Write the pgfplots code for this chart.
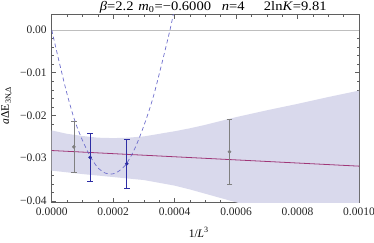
\documentclass[border=0pt]{standalone}
\usepackage{fontspec}
\setmainfont{Liberation Serif}
\usepackage{pgfplots}
\pgfplotsset{compat=1.18}
\definecolor{bandc}{RGB}{217,217,236}
\definecolor{linec}{RGB}{160,55,120}
\definecolor{ptblue}{RGB}{45,45,165}
\definecolor{ptgray}{RGB}{128,128,128}
\definecolor{dashc}{RGB}{110,110,205}
\definecolor{framec}{RGB}{95,95,95}
\definecolor{zeroc}{RGB}{190,190,190}
\begin{document}
\begin{tikzpicture}
\path[use as bounding box] (-51.7pt,-39.7pt) rectangle (322.3pt,202.3pt);
\begin{axis}[
  at={(0,0)}, anchor=south west,
  scale only axis, width=307.3pt, height=188.3pt,
  xmin=0, xmax=0.001, ymin=-0.0403, ymax=0.0037,
  axis line style={framec, line width=0.6pt},
  tick align=inside,
  major tick length=4.5pt, minor tick length=2.5pt,
  every tick/.style={framec, line width=0.5pt},
  xtick={0,0.0002,0.0004,0.0006,0.0008,0.001},
  xticklabels={0.0000,0.0002,0.0004,0.0006,0.0008,0.0010},
  minor x tick num=3,
  ytick={-0.04,-0.03,-0.02,-0.01,0},
  yticklabels={−0.04,−0.03,−0.02,−0.01,0.00},
  minor y tick num=4,
  scaled ticks=false,
  tick label style={font=\fontsize{11.5}{13}\selectfont, text=black!85},
  xticklabel style={yshift=-2pt},
  yticklabel style={xshift=-1.5pt},
  clip=true,
]
% zero line
\addplot[zeroc, line width=0.6pt] coordinates {(0,0) (0.001,0)};
% error band
\addplot[fill=bandc, draw=none] coordinates {
 (0,-0.0235) (0.00005,-0.0243) (0.0001,-0.0248) (0.00015,-0.0252) (0.0002,-0.0253)
 (0.00025,-0.0252) (0.0003,-0.0249) (0.00035,-0.0243) (0.0004,-0.0237) (0.00045,-0.0230)
 (0.0005,-0.0222) (0.0006,-0.0204) (0.0007,-0.0188) (0.0008,-0.0173) (0.0009,-0.0157)
 (0.001,-0.0142)
 (0.001,-0.0483) (0.0007,-0.0423) (0.0006,-0.0403) (0.0005,-0.0383) (0.00045,-0.0373)
 (0.0004,-0.0364) (0.0003,-0.0351) (0.0002,-0.0344) (0.0001,-0.0337) (0,-0.0329)
} -- cycle;
% fit line
\addplot[linec, line width=0.8pt] coordinates {(0,-0.0282) (0.001,-0.03185)};
% dashed curve
\addplot[dashc, line width=0.7pt, dash pattern=on 4pt off 3pt, smooth] coordinates {
 (0,0.0000) (0.000025,-0.0077) (0.00005,-0.0150) (0.000075,-0.0212) (0.0001,-0.0258)
 (0.000125,-0.0295) (0.00015,-0.0322) (0.000175,-0.0335) (0.00019,-0.0337)
 (0.00021,-0.0334) (0.00024,-0.0316) (0.00027,-0.0278) (0.0003,-0.0224)
 (0.00033,-0.0158) (0.00036,-0.0074) (0.000385,0.0000) (0.000396,0.0037)
};
% gray points
\addplot[only marks, mark=*, mark size=1.6pt, ptgray,
  error bars/.cd, y dir=both, y explicit,
  error bar style={ptgray, line width=0.7pt},
  error mark options={ptgray, mark size=2.8pt, line width=0.7pt, rotate=90}]
  coordinates {(0.00007234,-0.02734) +- (0,0.0059) (0.0005787,-0.0285) +- (0,0.0076)};
% blue points
\addplot[only marks, mark=*, mark size=1.6pt, ptblue,
  error bars/.cd, y dir=both, y explicit,
  error bar style={ptblue, line width=0.7pt},
  error mark options={ptblue, mark size=2.8pt, line width=0.7pt, rotate=90}]
  coordinates {(0.000125,-0.0298) +- (0,0.0057) (0.0002441,-0.0313) +- (0,0.0058)};
\end{axis}
\begin{scope}[every node/.style={font=\fontsize{13}{15}\selectfont, anchor=base west, inner sep=0pt, xscale=1.12}]
\node at (48pt,191.8pt) {\textit{β}=2.2};
\node at (86.5pt,191.8pt) {\textit{m}\textsubscript{0}=−0.6000};
\node at (170pt,191.8pt) {\textit{n}=4};
\node at (212pt,191.8pt) {2ln\textit{K}=9.81};
\end{scope}
\node[font=\fontsize{11.5}{13}\selectfont] at (147pt,-30pt) {1/\textit{L}\textsuperscript{3}};
\node[font=\fontsize{11.5}{13}\selectfont, rotate=90] at (-45pt,97pt) {\textit{a}ΔE\textsubscript{3N,Δ}};
\end{tikzpicture}
\end{document}
